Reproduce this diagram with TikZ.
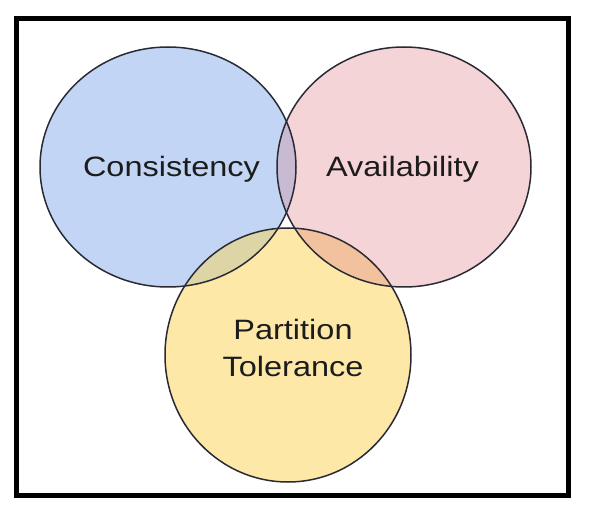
\documentclass[tikz,border=0pt]{standalone}
\usepackage{fontspec}
\setmainfont{Liberation Sans}
\definecolor{cblue}{HTML}{C2D5F4}
\definecolor{cpink}{HTML}{F4D4D7}
\definecolor{cyel}{HTML}{FDE8A8}
\definecolor{cbp}{HTML}{C9BAD3}
\definecolor{cby}{HTML}{DDD5A6}
\definecolor{cpy}{HTML}{F2C29E}
\definecolor{edgec}{HTML}{2A2A35}
\definecolor{txtc}{HTML}{1C1C1C}
\tikzset{
  venn/.style={draw=edgec, line width=1.5pt},
  lbl/.style={text=txtc, font=\fontsize{28}{37}\selectfont, align=center, inner sep=0pt, xscale=1.16},
  frame/.style={draw=black, line width=5pt}
}
\begin{document}
\begin{tikzpicture}[x=1pt,y=-1pt]
\useasboundingbox (0,0) rectangle (590,516);
\fill[white] (0,0) rectangle (590,516);
\def\blueC{(168,167) ellipse [x radius=128, y radius=120]}
\def\pinkC{(404,167) ellipse [x radius=127, y radius=120]}
\def\yelC{(288,355) ellipse [x radius=123, y radius=127]}
% base fills
\fill[cblue] \blueC;
\fill[cpink] \pinkC;
\fill[cyel] \yelC;
% intersections
\begin{scope}
  \clip \blueC;
  \fill[cbp] \pinkC;
  \fill[cby] \yelC;
\end{scope}
\begin{scope}
  \clip \pinkC;
  \fill[cpy] \yelC;
\end{scope}
% outlines
\draw[venn] \blueC;
\draw[venn] \pinkC;
\draw[venn] \yelC;
% labels
\node[lbl, anchor=base] (c) at (171.5,177) {Consistency};
\node[lbl, anchor=base] (a) at (402.5,177) {Availability};
\node[lbl, anchor=base] (p) at (293,340) {Partition};
\node[lbl, anchor=base] (t) at (293,377) {Tolerance};
% frame
\draw[frame] (16.5,18.5) rectangle (568.5,495);
\end{tikzpicture}
\end{document}
